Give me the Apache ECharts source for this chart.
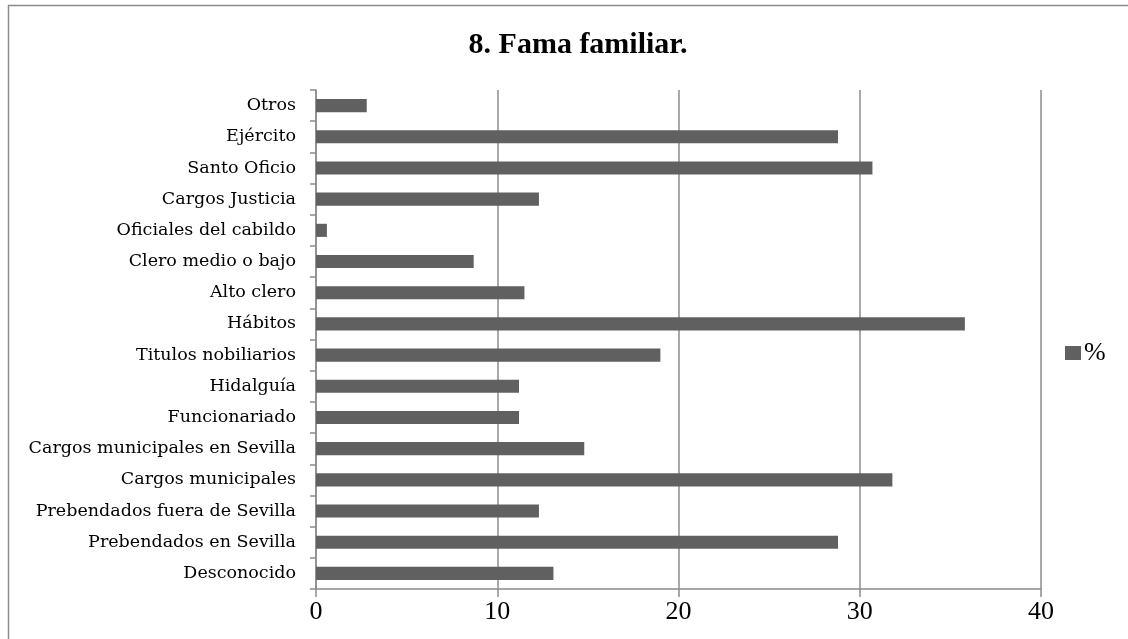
<!DOCTYPE html>
<html>
<head>
<meta charset="utf-8">
<script src="https://cdn.jsdelivr.net/npm/echarts@6/dist/echarts.min.js"></script>
<style>
html,body{margin:0;padding:0;background:#fff;}
#chart{width:1128px;height:639px;}
</style>
</head>
<body>
<div id="chart"></div>
<script>
var categories = ["Desconocido", "Prebendados en Sevilla", "Prebendados fuera de Sevilla", "Cargos municipales", "Cargos municipales en Sevilla", "Funcionariado", "Hidalguía", "Titulos nobiliarios", "Hábitos", "Alto clero", "Clero medio o bajo", "Oficiales del cabildo", "Cargos Justicia", "Santo Oficio", "Ejército", "Otros"];
var values = [13.1, 28.8, 12.3, 31.8, 14.8, 11.2, 11.2, 19.0, 35.8, 11.5, 8.7, 0.6, 12.3, 30.7, 28.8, 2.8];
var seriesName = "%";
var titleText = "8. Fama familiar.";

var FONT = "'Liberation Serif', serif";
var LFONT = "'DejaVu Serif', serif";
var chart = echarts.init(document.getElementById('chart'), null, {renderer: 'canvas'});
chart.setOption({
  animation: false,
  backgroundColor: '#ffffff',
  title: {
    text: titleText,
    left: 573, top: 25, textAlign: 'center',
    textStyle: {fontFamily: FONT, fontSize: 30, fontWeight: 'bold', color: '#000'}
  },
  legend: {
    data: [seriesName],
    left: 1060, top: 335,
    itemWidth: 16, itemHeight: 14, itemGap: 5,
    icon: 'rect',
    textStyle: {fontFamily: FONT, fontSize: 26, color: '#000', padding: [0,0,0,-2]}
  },
  grid: {left: 316, right: 87, top: 90, bottom: 50, containLabel: false},
  xAxis: {
    type: 'value', min: 0, max: 40, interval: 10,
    axisLine: {show: true, lineStyle: {color: '#8c8c8c', width: 1.5}},
    axisTick: {show: true, length: 8, lineStyle: {color: '#8c8c8c', width: 1.5}},
    axisLabel: {fontFamily: FONT, fontSize: 26, color: '#000', margin: 10},
    splitLine: {show: true, lineStyle: {color: '#8c8c8c', width: 1.5}}
  },
  yAxis: {
    type: 'category', data: categories,
    axisLine: {show: true, lineStyle: {color: '#8c8c8c', width: 1.5}},
    axisTick: {show: true, length: 6, lineStyle: {color: '#8c8c8c', width: 1.5}},
    axisLabel: {fontFamily: LFONT, fontSize: 17.5, color: '#000', margin: 20}
  },
  series: [{
    name: seriesName, type: 'bar', data: values,
    barWidth: '42%',
    itemStyle: {color: '#606060'}
  }],
  graphic: [{
    type: 'rect', silent: true,
    shape: {x: 8.5, y: 5.5, width: 1300, height: 800},
    style: {fill: 'none', stroke: '#8c8c8c', lineWidth: 1.5}
  }]
});
</script>
</body>
</html>
